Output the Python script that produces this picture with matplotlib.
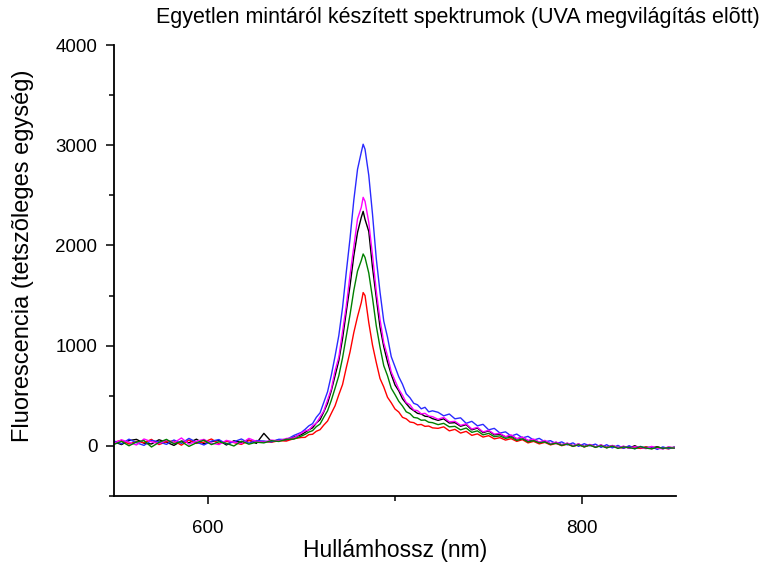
import matplotlib
matplotlib.use("Agg")
import matplotlib.pyplot as plt
from matplotlib.ticker import MultipleLocator

plt.rcParams['font.family'] = ['Liberation Sans', 'DejaVu Sans']

wavelength = [
    550, 554, 558, 562, 566, 570, 574, 578, 582, 586, 590, 594, 598, 602, 606, 610, 614, 618, 622, 626,
    630, 634, 638, 642, 646, 650,
    652, 654, 656, 658, 660, 662, 664, 666, 668, 670, 672, 674, 676, 678, 680, 682, 683, 684,
    686, 688, 690, 692, 694, 696, 698, 700, 702, 704, 706, 708, 710, 712, 714, 716, 718, 720,
    723, 726, 729, 732, 735, 738, 741, 744, 747, 750, 753, 756, 759, 762, 765, 768, 771, 774, 777, 780,
    783, 786, 789, 792, 795, 798, 801, 804, 807, 810, 813, 816, 819, 822, 825, 828, 831, 834, 837, 840,
    843, 846, 849,
]

black = [
    41, 13, 53, 65, 27, 19, 61, 37, 5, 49, 31, 67, 21, 43, 55, 9, 51, 35, 59, 25,
    125, 42, 60, 58, 88, 112,
    135, 160, 180, 228, 262, 340, 425, 550, 700, 850, 1070, 1340, 1600, 1895, 2130, 2280, 2340, 2260,
    2140, 1780, 1480, 1185, 990, 838, 712, 608, 550, 470, 422, 378, 352, 325, 318, 296, 292, 272,
    255, 270, 228, 232, 196, 212, 160, 178, 132, 150, 110, 118, 90, 100, 70, 85, 50, 62, 35, 48,
    20, 35, 12, 25, 2, 18, -6, 12, -10, 8, -15, 3, -18, -6, -22, 2, -25, -12, -20, -8,
    -28, -14, -20,
]

red = [
    37, 55, 19, 45, 31, 65, 13, 41, 51, 7, 59, 25, 37, 69, 21, 45, 33, 15, 53, 41,
    44, 36, 52, 48, 72, 84,
    85, 112, 116, 146, 162, 208, 248, 325, 400, 510, 612, 780, 938, 1130, 1290, 1430, 1530, 1500,
    1230, 1005, 832, 672, 588, 485, 430, 368, 338, 285, 270, 238, 232, 210, 214, 195, 198, 180,
    175, 190, 150, 165, 128, 145, 105, 120, 88, 102, 70, 82, 58, 72, 45, 62, 30, 45, 20, 35,
    10, 25, 2, 18, -5, 12, -10, 8, -12, 4, -18, 0, -15, -22, -5, -20, -25, -10, -28, -15,
    -20, -30, -12,
]

blue = [
    49, 21, 67, 31, 5, 55, 41, 15, 59, 25, 75, 37, 9, 47, 63, 19, 41, 69, 27, 53,
    48, 40, 66, 62, 104, 135,
    165, 200, 222, 285, 330, 435, 540, 705, 895, 1100, 1380, 1735, 2070, 2450, 2760, 2930, 3010, 2960,
    2700, 2310, 1870, 1535, 1245, 1085, 890, 790, 690, 615, 520, 480, 425, 410, 370, 385, 340, 350,
    335, 300, 318, 270, 280, 225, 245, 200, 215, 160, 175, 128, 140, 98, 118, 80, 95, 58, 75, 40,
    52, 22, 40, 10, 30, -5, 22, 0, 18, -15, 12, -20, 5, -25, 2, -30, -5, -22, -8, -35,
    -10, -28, -12,
]

magenta = [
    25, 61, 35, 9, 69, 41, 23, 57, 31, 79, 17, 47, 65, 27, 13, 55, 37, 23, 75, 45,
    36, 58, 50, 74, 80, 128,
    150, 158, 200, 226, 288, 348, 458, 568, 750, 885, 1140, 1398, 1705, 1985, 2265, 2380, 2480, 2440,
    2230, 1900, 1545, 1262, 1030, 898, 738, 652, 566, 505, 432, 410, 358, 352, 320, 325, 298, 292,
    265, 285, 240, 245, 205, 220, 168, 185, 140, 155, 118, 125, 92, 110, 72, 88, 55, 68, 38, 55,
    22, 38, 10, 28, 0, 20, -8, 15, -12, 10, -18, 5, -20, -2, -25, -8, -15, -28, -5, -22,
    -30, -10, -20,
]

green = [
    15, 45, 1, 39, 53, -11, 35, 65, 21, 43, -5, 31, 57, 13, 41, 25, -1, 47, 17, 37,
    30, 52, 44, 66, 68, 98,
    115, 138, 152, 192, 218, 286, 350, 455, 575, 700, 878, 1095, 1310, 1550, 1745, 1850, 1915, 1880,
    1725, 1475, 1198, 985, 800, 700, 575, 512, 445, 398, 340, 322, 284, 278, 256, 258, 236, 232,
    212, 225, 190, 195, 160, 178, 135, 150, 110, 125, 92, 100, 75, 88, 55, 70, 40, 52, 30, 40,
    15, 28, 5, 20, -5, 12, -10, 8, -15, 2, -20, -2, -25, -10, -18, -28, -8, -22, -30, -12,
    -25, -18, -22,
]

series = [
    (black, '#000000'),
    (red, '#ff0000'),
    (blue, '#2a2aff'),
    (magenta, '#ff00ff'),
    (green, '#008000'),
]

title = "Egyetlen mintáról készített spektrumok (UVA megvilágítás elõtt)"
xlabel = "Hullámhossz (nm)"
ylabel = "Fluorescencia (tetszõleges egység)"

fig = plt.figure(figsize=(7.64, 5.71), dpi=100)
ax = fig.add_axes([114 / 764, 1 - 496 / 571, (676 - 114) / 764, (496 - 45) / 571])

for vals, col in series:
    n = min(len(wavelength), len(vals))
    ax.plot(wavelength[:n], vals[:n], color=col, lw=1.0)

ax.set_xlim(550, 850)
ax.set_ylim(-500, 4000)
ax.xaxis.set_major_locator(MultipleLocator(200))
ax.xaxis.set_minor_locator(MultipleLocator(100))
ax.yaxis.set_major_locator(MultipleLocator(1000))
ax.yaxis.set_minor_locator(MultipleLocator(500))

for s in ['top', 'right']:
    ax.spines[s].set_visible(False)
for s in ['left', 'bottom']:
    ax.spines[s].set_linewidth(1.3)

ax.tick_params(which='major', direction='out', length=6, width=1.1, labelsize=13.5, pad=6)
ax.tick_params(which='minor', direction='out', length=3.5, width=1.1)
ax.tick_params(axis='x', pad=11)

ax.set_xlabel(xlabel, fontsize=16.5)
ax.xaxis.label.set_va('center')
ax.xaxis.set_label_coords((395 - 114) / 562, -(551 - 496) / 451)
ax.set_ylabel(ylabel, fontsize=17)
ax.yaxis.label.set_va('center')
ax.yaxis.set_label_coords((23 - 114) / 562, (496 - 256) / 451)
fig.text(458 / 764, 1 - 18 / 571, title, fontsize=15.5, ha='center', va='center')

fig.savefig('out.png', dpi=100)
